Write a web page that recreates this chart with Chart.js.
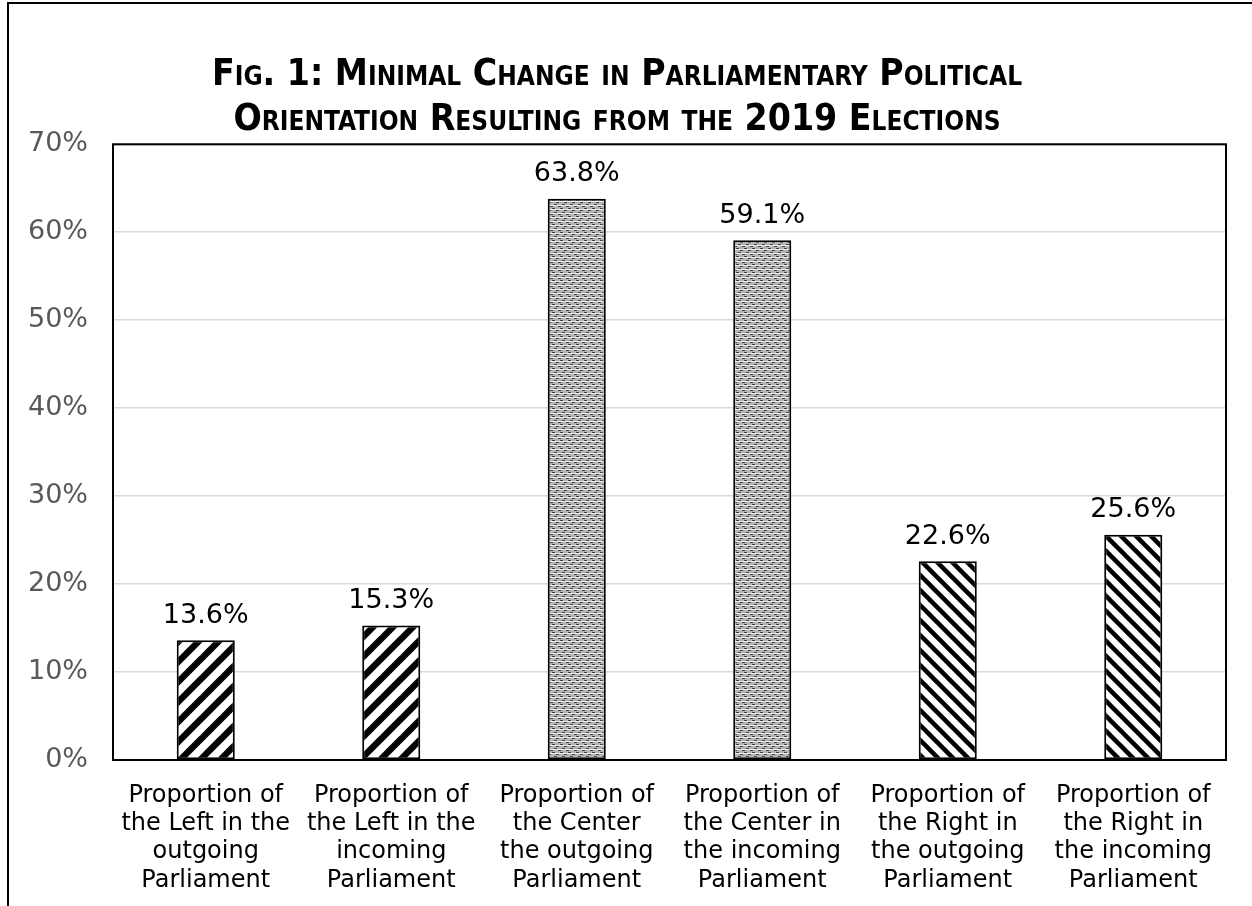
<!DOCTYPE html>
<html>
<head>
<meta charset="utf-8">
<script src="https://cdn.jsdelivr.net/npm/chart.js@4.4.1/dist/chart.umd.min.js"></script>
<style>
  html, body { margin: 0; padding: 0; background: #fff; }
  #wrap { position: relative; width: 1252px; height: 906px; }
</style>
</head>
<body>
<div id="wrap"><canvas id="chart"></canvas></div>
<script>
// data
const kategori = [
  ["Proportion of", "the Left in the", "outgoing", "Parliament"],
  ["Proportion of", "the Left in the", "incoming", "Parliament"],
  ["Proportion of", "the Center", "the outgoing", "Parliament"],
  ["Proportion of", "the Center in", "the incoming", "Parliament"],
  ["Proportion of", "the Right in", "the outgoing", "Parliament"],
  ["Proportion of", "the Right in", "the incoming", "Parliament"]
];
const nilai = [13.6, 15.3, 63.8, 59.1, 22.6, 25.6];
const jenisPola = ["kiri", "kiri", "tengah", "tengah", "kanan", "kanan"];
const judul = [
  "Fig. 1: Minimal Change in Parliamentary Political",
  "Orientation Resulting from the 2019 Elections"
];

// pola arsiran
function buatPola(jenis) {
  const c = document.createElement("canvas");
  const g = c.getContext("2d");
  if (jenis === "kiri" || jenis === "kanan") {
    const s = jenis === "kiri" ? 20 : 15;
    c.width = s; c.height = s;
    g.fillStyle = "#fff"; g.fillRect(0, 0, s, s);
    g.strokeStyle = "#000";
    g.lineWidth = jenis === "kiri" ? 6.5 : 4.5;
    for (let k = -s; k <= s; k += s) {
      g.beginPath();
      if (jenis === "kiri") { g.moveTo(k - s, 2 * s); g.lineTo(k + 2 * s, -s); }
      else { g.moveTo(k - s, -s); g.lineTo(k + 2 * s, 2 * s); }
      g.stroke();
    }
  } else {
    c.width = 8; c.height = 8;
    g.fillStyle = "#b4b4b4"; g.fillRect(0, 0, 8, 8);
    g.fillStyle = "#eeeeee";
    g.fillRect(0, 1, 8, 1); g.fillRect(0, 5, 8, 1);
    g.fillStyle = "#444";
    g.fillRect(0, 0, 3, 1); g.fillRect(4, 2, 3, 1);
    g.fillRect(2, 4, 3, 1); g.fillRect(6, 6, 2, 1); g.fillRect(0, 6, 1, 1);
  }
  return g.createPattern(c, "repeat");
}

// bingkai luar + kotak area plot
const bingkai = {
  id: "bingkai",
  beforeDraw(chart) {
    const ctx = chart.ctx;
    ctx.save();
    ctx.strokeStyle = "#000";
    ctx.lineWidth = 2;
    ctx.beginPath();
    ctx.moveTo(8, 906); ctx.lineTo(8, 3); ctx.lineTo(1252, 3);
    ctx.stroke();
    ctx.restore();
  },
  afterDatasetsDraw(chart) {
    const a = chart.chartArea;
    const ctx = chart.ctx;
    ctx.save();
    ctx.strokeStyle = "#000";
    ctx.lineWidth = 2;
    ctx.strokeRect(a.left, a.top, a.right - a.left, a.bottom - a.top);
    ctx.restore();
  }
};

// label nilai di atas batang
const labelNilai = {
  id: "labelNilai",
  afterDatasetsDraw(chart) {
    const ctx = chart.ctx;
    const meta = chart.getDatasetMeta(0);
    ctx.save();
    ctx.font = "27px 'DejaVu Sans'";
    ctx.fillStyle = "#000";
    ctx.textAlign = "center";
    ctx.textBaseline = "bottom";
    meta.data.forEach((bar, i) => {
      ctx.fillText(nilai[i].toFixed(1) + "%", bar.x, bar.y - 11);
    });
    ctx.restore();
  }
};

const ctx = document.getElementById("chart").getContext("2d");
new Chart(ctx, {
  type: "bar",
  data: {
    labels: kategori,
    datasets: [{
      data: nilai,
      backgroundColor: jenisPola.map(buatPola),
      borderColor: "#000",
      borderWidth: 2,
      borderSkipped: false,
      categoryPercentage: 1,
      barPercentage: 0.313
    }]
  },
  options: {
    responsive: true,
    maintainAspectRatio: false,
    animation: false,
    layout: { padding: { left: 8, right: 26, top: 0, bottom: 0 } },
    plugins: {
      legend: { display: false },
      tooltip: { enabled: false },
      title: {
        display: true,
        text: judul,
        color: "#000",
        font: { family: "'DejaVu Sans Condensed', 'DejaVu Sans'", size: 37, weight: "small-caps bold", lineHeight: 1.22 },
        padding: { top: 53, bottom: 1 }
      }
    },
    scales: {
      x: {
        grid: { display: false },
        border: { display: false },
        ticks: {
          color: "#000",
          font: { family: "'DejaVu Sans'", size: 24, lineHeight: 1.17 },
          maxRotation: 0,
          autoSkip: false,
          padding: 14
        },
        afterFit(scale) { scale.height = 146; }
      },
      y: {
        min: 0,
        max: 70,
        grid: { color: "#d9d9d9", lineWidth: 1.5, drawTicks: false },
        border: { display: false },
        ticks: {
          stepSize: 10,
          color: "#595959",
          font: { family: "'DejaVu Sans'", size: 27 },
          padding: 25,
          callback: v => v + "%"
        },
        afterFit(scale) { scale.width = 105; }
      }
    }
  },
  plugins: [bingkai, labelNilai]
});
</script>
</body>
</html>
